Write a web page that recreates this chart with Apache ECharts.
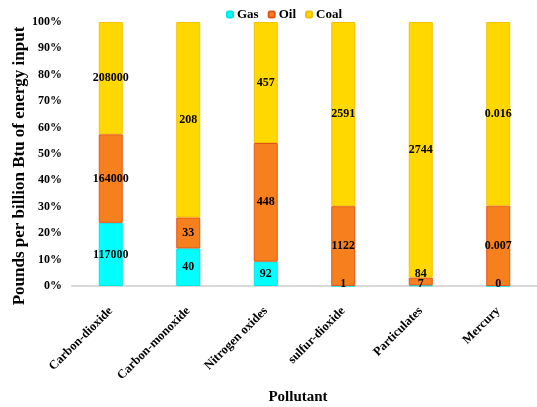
<!DOCTYPE html>
<html><head><meta charset="utf-8">
<script src="https://cdn.jsdelivr.net/npm/echarts@6/dist/echarts.min.js"></script>
<style>html,body{margin:0;padding:0;background:#fff}#c{width:537px;height:407px}</style>
</head><body><div id="c"></div>
<script>
const categories = ['Carbon-dioxide','Carbon-monoxide','Nitrogen oxides','sulfur-dioxide','Particulates','Mercury'];
const gas  = [117000, 40, 92, 1, 7, 0];
const oil  = [164000, 33, 448, 1122, 84, 0.007];
const coal = [208000, 208, 457, 2591, 2744, 0.016];
const seriesNames = ['Gas','Oil','Coal'];
const yTicks = [0,10,20,30,40,50,60,70,80,90,100];
const xTitle = 'Pollutant';
const yTitle = 'Pounds per billion Btu of energy input';

const FONT = '"Liberation Serif", "Times New Roman", serif';
const raw = [gas, oil, coal];
const totals = categories.map((_, i) => gas[i] + oil[i] + coal[i]);
const colors = ['#00FFFF', '#F67F1E', '#FFD800'];
const borders = ['#00E5E5', '#E2541A', '#F2C200'];

const series = raw.map((arr, s) => ({
  name: seriesNames[s],
  type: 'bar',
  stack: 'total',
  barWidth: 24,
  itemStyle: { color: colors[s], borderColor: borders[s], borderWidth: 1 },
  data: arr.map((v, i) => {
    const item = { value: v / totals[i] * 100, raw: v };
    const pct = v / totals[i] * 100;
    if (s === 0 && pct < 2) item.label = { offset: [0, -2] };
    if (s === 1 && pct < 5) item.label = { offset: [0, -8] };
    return item;
  }),
  label: {
    show: true, position: 'inside', color: '#000',
    fontFamily: FONT, fontWeight: 'bold', fontSize: 12,
    formatter: p => String(p.data.raw)
  }
}));

const chart = echarts.init(document.getElementById('c'), null, { renderer: 'canvas' });
chart.setOption({
  animation: false,
  backgroundColor: '#fff',
  legend: {
    data: seriesNames, left: 221, top: 3,
    itemWidth: 6, itemHeight: 6, itemGap: 9,
    textStyle: { fontFamily: FONT, fontWeight: 'bold', fontSize: 13, color: '#000', padding: [0,0,0,-1] }
  },
  grid: { left: 72, top: 22, width: 468, bottom: 121, containLabel: false },
  graphic: [
    { type: 'text', x: 298, y: 397, style: {
        text: xTitle, font: 'bold 15px ' + FONT, fill: '#000', align: 'center', verticalAlign: 'middle' } },
    { type: 'text', x: 20, y: 166, rotation: Math.PI / 2, style: {
        text: yTitle, font: 'bold 17px ' + FONT, fill: '#000', align: 'center', verticalAlign: 'middle' } }
  ],
  xAxis: {
    type: 'category', data: categories,
    axisLine: { lineStyle: { color: '#D9D9D9', width: 2 } },
    axisTick: { show: false },
    axisLabel: { rotate: 45, margin: 23, fontFamily: FONT, fontWeight: 'bold', fontSize: 12.5, color: '#000' }
  },
  yAxis: {
    type: 'value', min: 0, max: 100, interval: 10,
    axisLine: { show: false }, axisTick: { show: false },
    splitLine: { show: false },
    axisLabel: { margin: 10, fontFamily: FONT, fontWeight: 'bold', fontSize: 12, color: '#000',
      formatter: v => yTicks.includes(v) ? v + '%' : '' }
  },
  series
});
</script></body></html>
